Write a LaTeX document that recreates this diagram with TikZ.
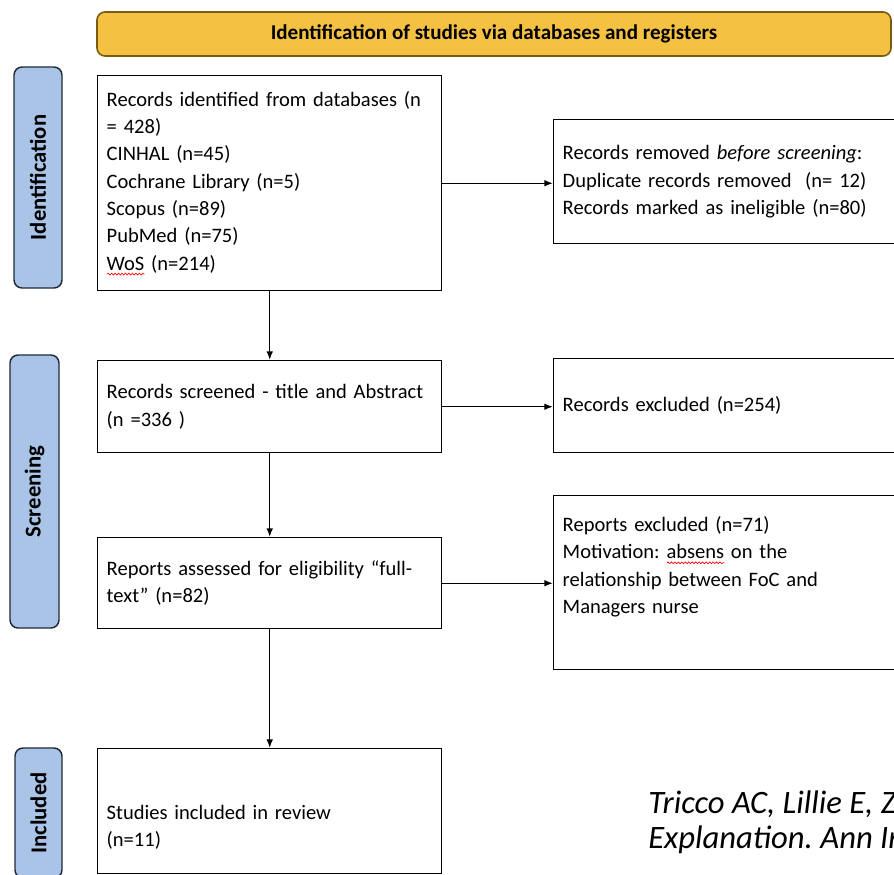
\documentclass[tikz,border=0pt]{standalone}
\usepackage{fontspec}
\setmainfont{Carlito}
\usetikzlibrary{arrows.meta, decorations.pathmorphing}
\definecolor{bannergold}{HTML}{F4C143}
\definecolor{bannerline}{HTML}{7A5C0E}
\definecolor{stageblue}{HTML}{A9C4E6}
\definecolor{stageline}{HTML}{1F2937}
\frenchspacing
\newlength\spellwd
\newcommand\spellmark[1]{\leavevmode\settowidth\spellwd{#1}%
  \rlap{\tikz[baseline=0pt, x=1pt, y=1pt]\draw[red, line width=0.5pt, decorate,%
    decoration={snake, segment length=2.6pt, amplitude=0.7pt}] (0,-3) -- (\spellwd,-3);}%
  #1}

\begin{document}
\begin{tikzpicture}[x=0.75pt, y=-0.75pt,
  flowbox/.style={draw, line width=1.1pt, rectangle, inner sep=0pt, anchor=north west,
    minimum width=258pt, text width=244.5pt, align=left, font=\fontsize{15.4}{20.5}\selectfont},
  sidebox/.style={draw, line width=1.1pt, rectangle, inner sep=0pt, anchor=north west,
    minimum width=270pt, text width=256.5pt, align=left, font=\fontsize{15.4}{20.5}\selectfont},
  stagebox/.style={draw=stageline, fill=stageblue, line width=1.1pt, rounded corners=6pt,
    rotate=90, inner sep=0pt, font=\fontsize{17}{20}\bfseries},
  flowarrow/.style={line width=1pt, -{Latex[length=6.5pt, width=5pt]}}]
  \useasboundingbox (0,0) rectangle (894,875);
  \clip (0,0) rectangle (894,875);

  % Banner
  \node[draw=bannerline, fill=bannergold, line width=1.2pt, rounded corners=6pt,
    minimum width=595.5pt, minimum height=33pt, font=\fontsize{15.8}{18}\bfseries]
    (banner) at (494,34) {Identification of studies via databases and registers};

  % Stage labels
  \node[stagebox, minimum width=165.75pt, minimum height=36pt] (identification) at (38,177.5) {Identification};
  \node[stagebox, minimum width=204.75pt, minimum height=36.75pt] (screening) at (34.5,491.5) {Screening};
  \node[stagebox, minimum width=97.5pt, minimum height=35.25pt] (included) at (38.5,813) {Included};

  % Main column
  \node[flowbox, minimum height=161.25pt] (identified) at (97,75)
    {Records identified from databases (n\\ = 428)\\ CINHAL (n=45)\\ Cochrane Library (n=5)\\
     Scopus (n=89)\\ PubMed (n=75)\\ \spellmark{WoS} (n=214)};
  \node[flowbox, minimum height=69pt] (screened) at (97,360)
    {Records screened - title and Abstract\\ (n =336 )};
  \node[flowbox, minimum height=68.25pt] (assessed) at (97,537)
    {Reports assessed for eligibility “full-\\ text” (n=82)};
  \node[flowbox, minimum height=93.75pt] (studies) at (97,748)
    {\strut\\ Studies included in review\\ (n=11)};

  % Side column
  \node[sidebox, minimum height=93pt] (removed) at (553,119)
    {Records removed \textit{before screening}:\\ Duplicate records removed~ (n= 12)\\
     Records marked as ineligible (n=80)};
  \node[sidebox, minimum height=70.5pt] (excluded) at (553,358)
    {Records excluded (n=254)};
  \node[sidebox, minimum height=130.5pt] (reports) at (553,495)
    {Reports excluded (n=71)\\ Motivation: \spellmark{absens} on the\\
     relationship between FoC and\\ Managers nurse\\ \strut};

  % Arrows
  \draw[flowarrow] (identified) -- (screened);
  \draw[flowarrow] (screened) -- (assessed);
  \draw[flowarrow] (assessed) -- (studies);
  \draw[flowarrow] (identified.east) -- (identified.east -| removed.west);
  \draw[flowarrow] (screened.east) -- (screened.east -| excluded.west);
  \draw[flowarrow] (assessed.east) -- (assessed.east -| reports.west);

  % Citation
  \node[anchor=north west, inner sep=0pt, align=left, font=\fontsize{24.5}{26.25}\itshape]
    (citation) at (648,791) {Tricco AC, Lillie E, Zarin\\ Explanation. Ann Intern};
\end{tikzpicture}
\end{document}
